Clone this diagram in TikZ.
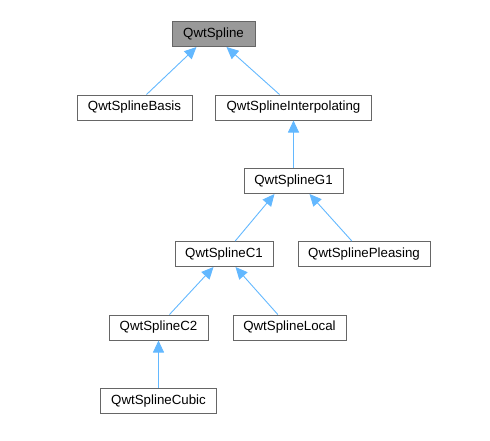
\documentclass[tikz,border=0pt]{standalone}
\usepackage{fontspec}
\setmainfont{Liberation Sans}
\usetikzlibrary{arrows.meta,calc}
\definecolor{edgeblue}{HTML}{63B8FF}
\definecolor{boxgray}{HTML}{666666}
\definecolor{mainfill}{HTML}{999999}
\begin{document}
\begin{tikzpicture}[x=1pt,y=-1pt,
  cls/.style={draw=boxgray, line width=1pt, fill=white, inner sep=0pt, minimum height=25pt, font=\fontsize{13.3}{15}\selectfont, anchor=center},
  inh/.style={draw=edgeblue, line width=0.9pt, {Triangle[length=12pt,width=11pt,fill=edgeblue]}-},
]
\useasboundingbox (0,0) rectangle (490,440);
\node[cls, fill=mainfill, minimum width=83pt] (spline) at (213.5,34) {QwtSpline};
\node[cls, minimum width=115pt] (basis) at (134.5,107.5) {QwtSplineBasis};
\node[cls, minimum width=156pt] (interp) at (293.5,107.5) {QwtSplineInterpolating};
\node[cls, minimum width=99pt] (g1) at (293.5,181) {QwtSplineG1};
\node[cls, minimum width=98pt] (c1) at (224,254) {QwtSplineC1};
\node[cls, minimum width=132pt] (pleasing) at (364,254) {QwtSplinePleasing};
\node[cls, minimum width=99pt] (c2) at (158.5,327.5) {QwtSplineC2};
\node[cls, minimum width=113pt] (local) at (289.5,327.5) {QwtSplineLocal};
\node[cls, minimum width=116pt] (cubic) at (158.5,401) {QwtSplineCubic};

\draw[inh] ($(spline.south west)+(25,0)$) -- ($(basis.north west)+(70,0)$);
\draw[inh] ($(spline.south west)+(55,0)$) -- ($(interp.north west)+(64.5,0)$);
\draw[inh] (interp.south) -- (g1.north);
\draw[inh] ($(g1.south west)+(31,0)$) -- ($(c1.north west)+(60.7,0)$);
\draw[inh] ($(g1.south west)+(66,0)$) -- ($(pleasing.north west)+(54.3,0)$);
\draw[inh] ($(c1.south west)+(39,0)$) -- ($(c2.north west)+(61,0)$);
\draw[inh] ($(c1.south west)+(61,0)$) -- ($(local.north west)+(45.3,0)$);
\draw[inh] (c2.south) -- (cubic.north);
\end{tikzpicture}
\end{document}
